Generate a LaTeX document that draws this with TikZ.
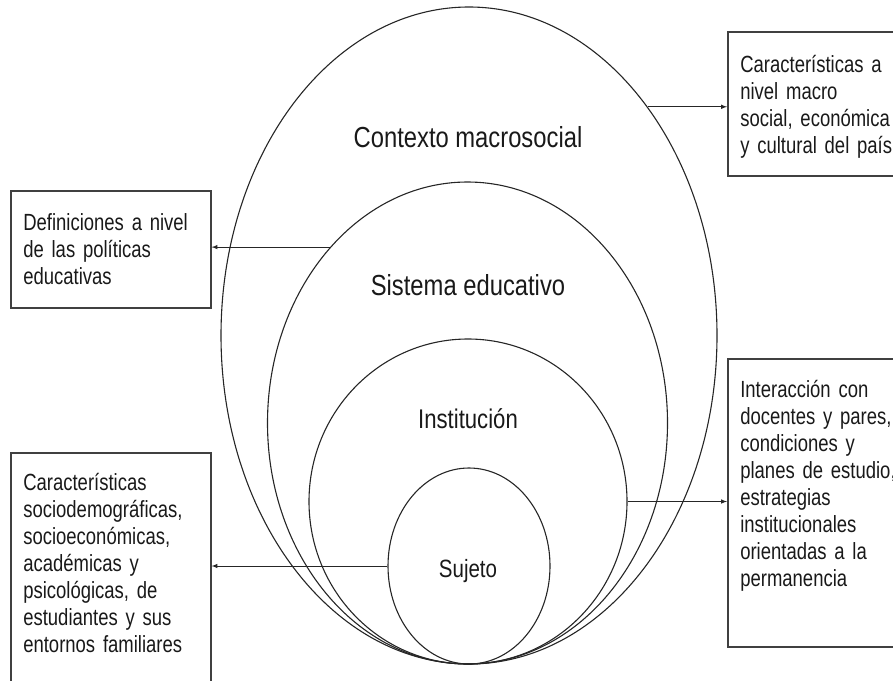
\documentclass[tikz,border=0pt]{standalone}
\usepackage{fontspec}
\setmainfont{Liberation Sans}[FakeStretch=0.82]
\newfontfamily\notefont{Liberation Sans}[FakeStretch=0.79]
\usetikzlibrary{shapes.geometric}

\begin{document}
\begin{tikzpicture}[x=1pt,y=-1pt,>=latex,
  ring/.style={draw=black!85,ellipse,line width=1.1pt,inner sep=0pt},
  lvl/.style={anchor=base,text=black!90,font=\fontsize{#1}{#1}\selectfont},
  note/.style={draw=black!75,line width=1.6pt,anchor=north west,align=left,
    inner xsep=12.5pt,inner ysep=0pt,text width=175pt,text height=40pt,
    text=black!90,font=\notefont\fontsize{23.4}{27}\selectfont},
  link/.style={->,draw=black!85,line width=1pt}]
 \useasboundingbox (0,0) rectangle (893,680);
 \clip (0,0) rectangle (893,680);

 \node[ring,minimum width=496pt,minimum height=657pt] (macro) at (469,335.5) {};
 \node[ring,minimum width=400pt,minimum height=482pt] (sistema) at (467.5,423) {};
 \node[ring,minimum width=318pt,minimum height=325pt] (inst) at (468,501.5) {};
 \node[ring,minimum width=162pt,minimum height=196pt] (sujeto) at (469,566) {};

 \node[lvl=29] (macrolbl) at (468,147) {Contexto macrosocial};
 \node[lvl=29] (sistemalbl) at (468,295) {Sistema educativo};
 \node[lvl=27] (instlbl) at (468,428) {Institución};
 \node[lvl=25] (sujetolbl) at (468,577) {Sujeto};

 % boxes on the right run off the page, as in the source figure
 \node[note,text width=200pt,text height=41pt,text depth=103pt] (macrobox) at (727,31)
  {Características a\\nivel macro\\social, económica\\y cultural del país};
 \node[note,text depth=77pt] (politbox) at (10,190)
  {Definiciones a nivel\\de las políticas\\educativas};
 \node[note,text height=38pt,text depth=240pt] (sujbox) at (10,452)
  {Características\\sociodemográficas,\\socioeconómicas,\\académicas y\\psicológicas, de\\estudiantes y sus\\entornos familiares};
 \node[note,text width=200pt,text height=39pt,text depth=249pt] (instbox) at (727,358)
  {Interacción con\\docentes y pares,\\condiciones y\\planes de estudio,\\estrategias\\institucionales\\orientadas a la\\permanencia};

 \draw[link] (macro.52.8) -- (macro.52.8 -| macrobox.west);
 \draw[link] (sistema.128.8) -- (sistema.128.8 -| politbox.east);
 \draw[link] (inst.east) -- (inst.east -| instbox.west);
 \draw[link] (sujeto.west) -- (sujeto.west -| sujbox.east);
\end{tikzpicture}
\end{document}
